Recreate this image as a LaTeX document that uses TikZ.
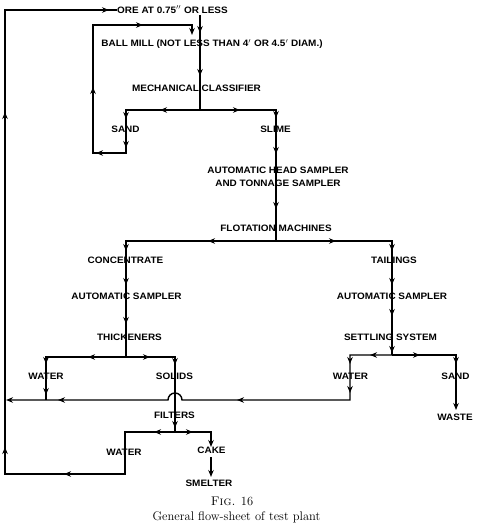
\documentclass[tikz,border=0pt]{standalone}
\usepackage{fontspec}
\newfontfamily\labfont[FakeStretch=1.07]{Liberation Sans}
\usetikzlibrary{arrows.meta,decorations.markings}
\tikzset{
  ln/.style={line width=1.4pt, line join=miter},
  am/.style={postaction={decorate,decoration={markings,mark=at position #1 with {\arrow{Stealth[length=7pt,width=5.5pt]}}}}},
  tipend/.style={-{Stealth[length=7pt,width=5.5pt]}},
  lab/.style={font=\labfont\bfseries\fontsize{9.3}{11}\selectfont, inner sep=0pt, align=center},
  captext/.style={font=\fontsize{12.5}{14}\selectfont, inner sep=0pt},
}
\begin{document}
\begin{tikzpicture}[x=1pt,y=-1pt]
\useasboundingbox (0,0) rectangle (476,529);
% labels
\node[lab,anchor=west] (ore) at (117,10) {ORE AT 0.75$''$ OR LESS};
\node[lab] (mill) at (212,44) {BALL MILL (NOT LESS THAN 4$'$ OR 4.5$'$ DIAM.)};
\node[lab] (class) at (196.5,88) {MECHANICAL CLASSIFIER};
\node[lab] (sand1) at (125.5,129) {SAND};
\node[lab] (slime) at (275.5,129) {SLIME};
\node[lab] (head) at (278,177) {AUTOMATIC HEAD SAMPLER\\[1.5pt]AND TONNAGE SAMPLER};
\node[lab] (flot) at (276,228) {FLOTATION MACHINES};
\node[lab] (conc) at (125.5,260) {CONCENTRATE};
\node[lab] (tail) at (394,260) {TAILINGS};
\node[lab] (samp1) at (126.5,296) {AUTOMATIC SAMPLER};
\node[lab] (samp2) at (392,296) {AUTOMATIC SAMPLER};
\node[lab] (thick) at (129.5,337) {THICKENERS};
\node[lab] (settle) at (390.5,337) {SETTLING SYSTEM};
\node[lab] (water1) at (46,376) {WATER};
\node[lab] (solids) at (174.5,376) {SOLIDS};
\node[lab] (water2) at (350.5,376) {WATER};
\node[lab] (sand2) at (455.5,376) {SAND};
\node[lab] (waste) at (455,417) {WASTE};
\node[lab] (filt) at (174.5,415) {FILTERS};
\node[lab] (water3) at (124,452) {WATER};
\node[lab] (cake) at (211.5,450) {CAKE};
\node[lab] (smelt) at (209,483) {SMELTER};
\node[captext] (fig) at (232,501) {\textsc{Fig.} \oldstylenums{16}};
\node[captext] (capt) at (236.5,517) {General flow-sheet of test plant};
% junction coordinates
\coordinate (top) at (200,15);
\coordinate (cj) at (200,110);
\coordinate (fj) at (276,241);
\coordinate (tj) at (126,357);
\coordinate (sj) at (392,355);
\coordinate (filj) at (175,432);
\coordinate (millin) at (192,35);
\coordinate (ret) at (6,400);
\coordinate (cakeout) at (211,457);
\coordinate (smeltin) at (211,477);
% main feed
\draw[ln,am=18pt,am=61pt] (top) -- (cj);
% sand loop
\draw[ln,tipend,am=40pt,am=83pt,am=112pt,am=147pt,am=216pt,am=328pt]
  (cj) -- (126,110) -- (126,153) -- (93,153) -- (93,25) -- (192,25) -- (millin);
% slime
\draw[ln,am=40pt,am=84pt,am=120pt,am=175pt] (cj) -- (276,110) -- (fj);
% concentrate
\draw[ln,am=68pt,am=160pt,am=194pt,am=233pt] (fj) -- (126,241) -- (tj);
% tailings
\draw[ln,am=60pt,am=126pt,am=160pt,am=191pt,am=228pt] (fj) -- (392,241) -- (sj);
% thickener water
\draw[ln,am=38pt,am=87pt,am=118pt] (tj) -- (46,357) -- (46,400);
% solids
\draw[ln,am=24pt,am=57pt,am=120pt] (tj) -- (175,357) -- (filj);
% settling water return
\draw[ln,tipend,am=22pt,am=51pt,am=80pt,am=200pt,am=387pt]
  (sj) -- (350,355) -- (350,400) -- (182,400) arc[start angle=0,end angle=180,radius=7pt] -- (ret);
% settling sand
\draw[ln,tipend,am=28pt,am=73pt] (sj) -- (456,355) -- (456,410);
% filter water return to ore
\draw[ln,am=21pt,am=153pt,am=239pt,am=574pt,am=780pt]
  (filj) -- (125,432) -- (125,474) -- (5,474) -- (5,10) -- (ore.west);
% cake
\draw[ln,tipend,am=18pt] (filj) -- (211,432) -- (211,447);
\draw[ln,tipend] (cakeout) -- (smeltin);
\end{tikzpicture}
\end{document}
